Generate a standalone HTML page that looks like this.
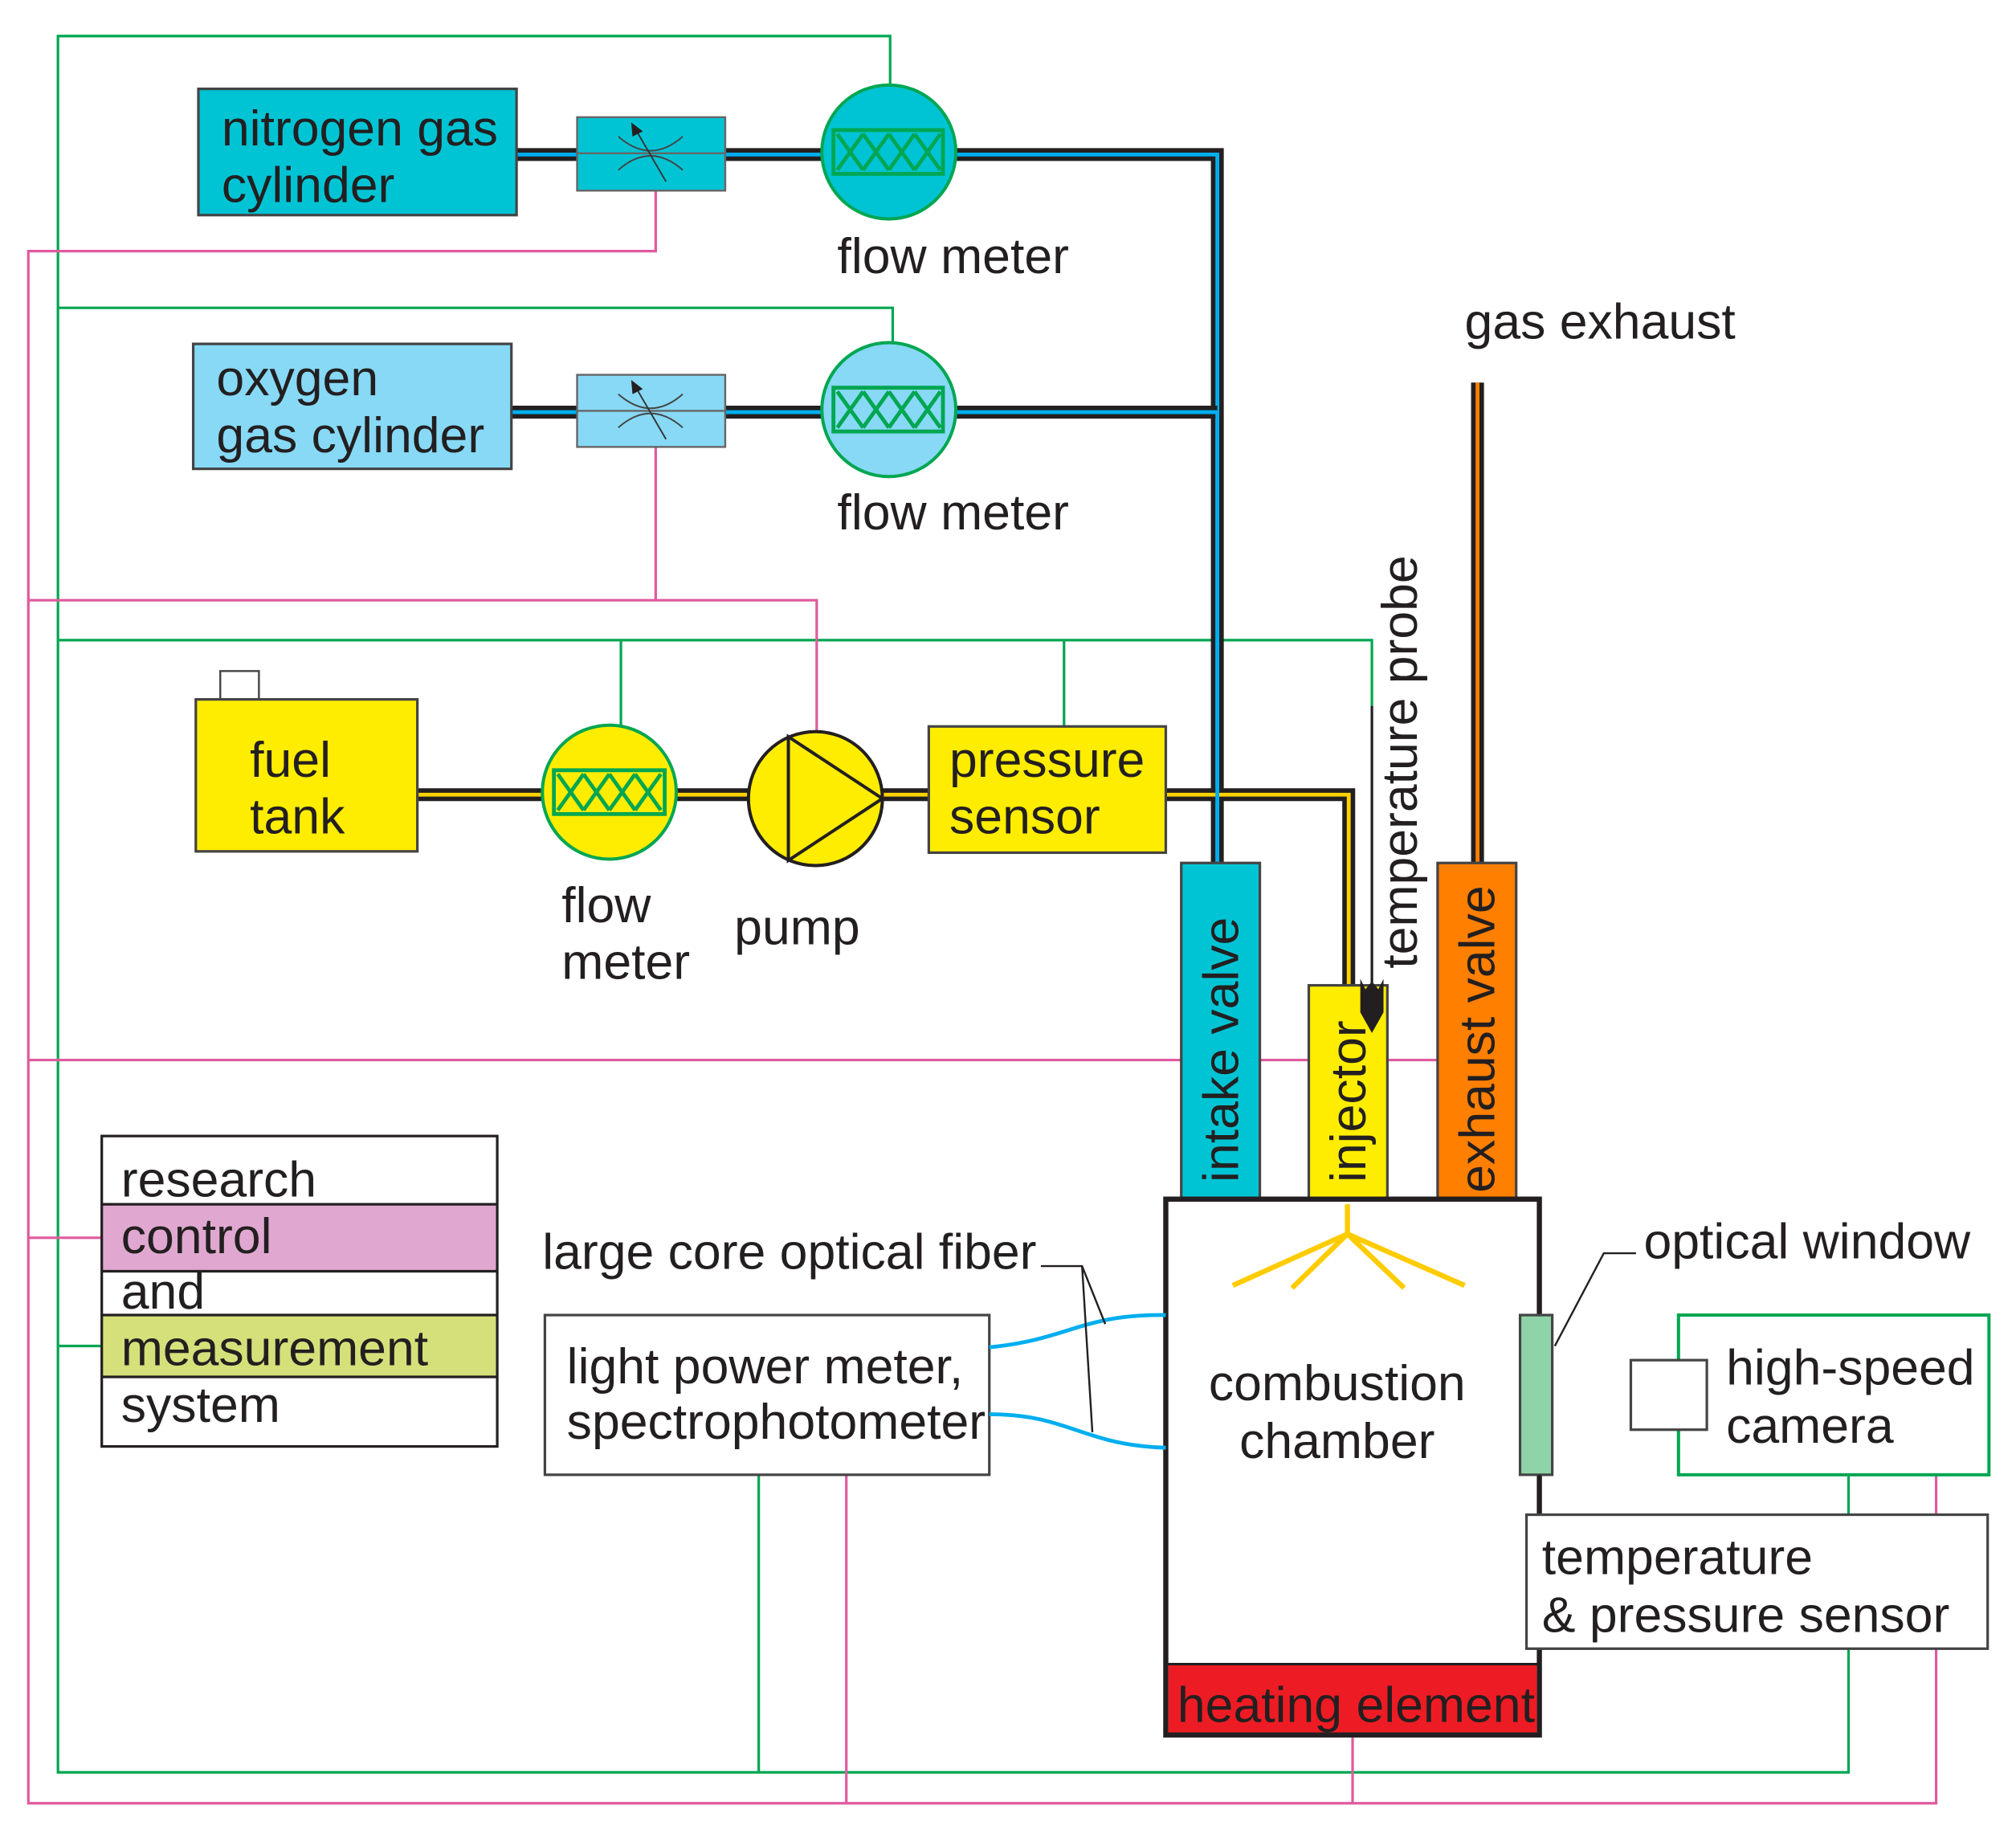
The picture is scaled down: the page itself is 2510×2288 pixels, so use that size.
<!DOCTYPE html>
<html><head><meta charset="utf-8"><style>
html,body{margin:0;padding:0;background:#fff;}
svg{display:block;}
text{font-family:"Liberation Sans",Arial,sans-serif;fill:#231f20;font-size:39px;}
</style></head><body>
<svg width="2510" height="2288" viewBox="0 0 1565 1427" preserveAspectRatio="none" xmlns="http://www.w3.org/2000/svg">
<rect width="1565" height="1427" fill="#fff"/>
<g fill="none" stroke-width="2">
<polyline stroke="#00a651" points="691,66 691,28 45,28 45,1376 1435,1376 1435,1280"/>
<polyline stroke="#00a651" points="45,239 693,239 693,266"/>
<polyline stroke="#00a651" points="45,497 1065,497 1065,548"/>
<line stroke="#00a651" x1="482" y1="497" x2="482" y2="563"/>
<line stroke="#00a651" x1="826" y1="497" x2="826" y2="564"/>
<line stroke="#00a651" x1="45" y1="1045" x2="79" y2="1045"/>
<line stroke="#00a651" x1="589" y1="1145" x2="589" y2="1376"/>
<line stroke="#00a651" x1="1435" y1="1145" x2="1435" y2="1176"/>
<polyline stroke="#e05a9e" points="509,148 509,195 22,195 22,1400 1503,1400 1503,1280"/>
<polyline stroke="#e05a9e" points="509,347 509,466 634,466 634,568"/>
<line stroke="#e05a9e" x1="22" y1="466" x2="509" y2="466"/>
<line stroke="#e05a9e" x1="22" y1="823" x2="1116" y2="823"/>
<line stroke="#e05a9e" x1="22" y1="961" x2="79" y2="961"/>
<line stroke="#e05a9e" x1="657" y1="1145" x2="657" y2="1400"/>
<line stroke="#e05a9e" x1="1050" y1="1347" x2="1050" y2="1400"/>
<line stroke="#e05a9e" x1="1503" y1="1145" x2="1503" y2="1176"/>
</g>
<g fill="none" stroke-linejoin="miter">
<polyline stroke="#231f20" stroke-width="10" points="401,120 945,120 945,670"/>
<polyline stroke="#00aeef" stroke-width="3" points="401,120 945,120 945,670"/>
<polyline stroke="#231f20" stroke-width="10" points="397,320 945,320"/>
<polyline stroke="#00aeef" stroke-width="3" points="397,320 945,320"/>
<polyline stroke="#231f20" stroke-width="10" points="324,617 1047,617 1047,765"/>
<polyline stroke="#ffd200" stroke-width="3" points="324,617 1047,617 1047,765"/>
<line stroke="#00aeef" stroke-width="3" x1="945" y1="320" x2="945" y2="670"/>
<line stroke="#231f20" stroke-width="10" x1="1147" y1="297" x2="1147" y2="670"/>
<line stroke="#ff7f00" stroke-width="3" x1="1147" y1="297" x2="1147" y2="670"/>
</g>
<rect x="154" y="69" width="247" height="98" fill="#00c4d4" stroke="#444" stroke-width="2"/>
<text x="172" y="113">nitrogen gas</text><text x="172" y="157">cylinder</text>
<rect x="448" y="91" width="115" height="57" fill="#00c4d4" stroke="#666" stroke-width="1.5"/>
<line x1="448" y1="119" x2="563" y2="119" stroke="#666" stroke-width="1.5"/>
<path d="M480,106 Q505,128 530,106 M480,132 Q505,110 530,132" fill="none" stroke="#444" stroke-width="1.2"/>
<line x1="492" y1="98" x2="517" y2="141" stroke="#333" stroke-width="1.2"/><path d="M490,95 l9,7 l-8,4z" fill="#231f20"/>
<ellipse cx="690" cy="118" rx="52" ry="52" fill="#00c4d4" stroke="#00a651" stroke-width="2.5"/>
<rect x="647" y="101" width="85" height="34" fill="none" stroke="#00a651" stroke-width="3"/>
<path d="M650,104 l20,28 M670,104 l-20,28 M670,104 l20,28 M690,104 l-20,28 M690,104 l20,28 M710,104 l-20,28 M710,104 l20,28 M730,104 l-20,28" stroke="#00a651" stroke-width="3"/>
<text x="650" y="212">flow meter</text>
<rect x="150" y="267" width="247" height="97" fill="#87d9f5" stroke="#444" stroke-width="2"/>
<text x="168" y="307">oxygen</text><text x="168" y="351">gas cylinder</text>
<rect x="448" y="291" width="115" height="56" fill="#87d9f5" stroke="#666" stroke-width="1.5"/>
<line x1="448" y1="319" x2="563" y2="319" stroke="#666" stroke-width="1.5"/>
<path d="M480,306 Q505,328 530,306 M480,332 Q505,310 530,332" fill="none" stroke="#444" stroke-width="1.2"/>
<line x1="492" y1="298" x2="517" y2="341" stroke="#333" stroke-width="1.2"/><path d="M490,295 l9,7 l-8,4z" fill="#231f20"/>
<ellipse cx="690" cy="318" rx="52" ry="52" fill="#87d9f5" stroke="#00a651" stroke-width="2.5"/>
<rect x="647" y="301" width="85" height="34" fill="none" stroke="#00a651" stroke-width="3"/>
<path d="M650,304 l20,28 M670,304 l-20,28 M670,304 l20,28 M690,304 l-20,28 M690,304 l20,28 M710,304 l-20,28 M710,304 l20,28 M730,304 l-20,28" stroke="#00a651" stroke-width="3"/>
<text x="650" y="411">flow meter</text>
<text x="1137" y="263">gas exhaust</text>
<rect x="171" y="521" width="30" height="22" fill="#fff" stroke="#444" stroke-width="1.5"/>
<rect x="152" y="543" width="172" height="118" fill="#ffed00" stroke="#444" stroke-width="2"/>
<text x="194" y="603">fuel</text><text x="194" y="647">tank</text>
<ellipse cx="473" cy="615" rx="52" ry="52" fill="#ffed00" stroke="#00a651" stroke-width="2.5"/>
<rect x="430" y="598" width="86" height="34" fill="none" stroke="#00a651" stroke-width="3"/>
<path d="M433,601 l20,28 M453,601 l-20,28 M453,601 l20,28 M473,601 l-20,28 M473,601 l20,28 M493,601 l-20,28 M493,601 l20,28 M513,601 l-20,28" stroke="#00a651" stroke-width="3"/>
<text x="436" y="716">flow</text><text x="436" y="760">meter</text>
<circle cx="633" cy="620" r="52" fill="#ffed00" stroke="#231f20" stroke-width="2.5"/>
<path d="M612,572 L685,620 L612,668 Z" fill="none" stroke="#231f20" stroke-width="2.5"/>
<text x="570" y="733">pump</text>
<rect x="721" y="564" width="184" height="98" fill="#ffed00" stroke="#444" stroke-width="2"/>
<text x="737" y="603">pressure</text><text x="737" y="647">sensor</text>
<line x1="1065" y1="548" x2="1065" y2="780" stroke="#231f20" stroke-width="2"/>
<rect x="917" y="670" width="61" height="261" fill="#00c4d4" stroke="#444" stroke-width="2"/>
<text transform="translate(961,918) rotate(-90)">intake valve</text>
<rect x="1016" y="765" width="61" height="166" fill="#ffed00" stroke="#444" stroke-width="2"/>
<text transform="translate(1060,918) rotate(-90)">injector</text>
<path d="M1056,760 l4,8 l5,-6 l5,6 l4,-8 v26 l-9,16 l-9,-16z" fill="#231f20"/>
<text transform="translate(1100,752) rotate(-90)">temperature probe</text>
<rect x="1116" y="670" width="61" height="261" fill="#ff7f00" stroke="#444" stroke-width="2"/>
<text transform="translate(1160,926) rotate(-90)">exhaust valve</text>
<rect x="905" y="931" width="290" height="416" fill="#fff" stroke="#231f20" stroke-width="4"/>
<rect x="907" y="1292" width="286" height="53" fill="#ed1c24"/>
<line x1="905" y1="1292" x2="1195" y2="1292" stroke="#231f20" stroke-width="2"/>
<text x="914" y="1337">heating element</text>
<polyline points="1046,935 1046,958" stroke="#ffcc00" stroke-width="4" fill="none"/>
<path d="M1046,958 L957,998 M1046,958 L1003,1000 M1046,958 L1090,1000 M1046,958 L1137,998" stroke="#ffcc00" stroke-width="4"/>
<text x="1038" y="1087" text-anchor="middle">combustion</text><text x="1038" y="1132" text-anchor="middle">chamber</text>
<rect x="1180" y="1021" width="25" height="124" fill="#8fd4a8" stroke="#444" stroke-width="2"/>
<polyline points="1207,1045 1245,973 1270,973" fill="none" stroke="#231f20" stroke-width="1.5"/>
<text x="1276" y="977">optical window</text>
<line x1="1195" y1="1145" x2="1195" y2="1176" stroke="#231f20" stroke-width="2"/>
<rect x="1303" y="1021" width="241" height="124" fill="#fff" stroke="#00a651" stroke-width="2.5"/>
<rect x="1266" y="1056" width="59" height="54" fill="#fff" stroke="#444" stroke-width="2"/>
<text x="1340" y="1075">high-speed</text><text x="1340" y="1120">camera</text>
<rect x="1185" y="1176" width="358" height="104" fill="#fff" stroke="#444" stroke-width="2"/>
<text x="1197" y="1222">temperature</text><text x="1197" y="1267">&amp; pressure sensor</text>
<rect x="423" y="1021" width="345" height="124" fill="#fff" stroke="#444" stroke-width="2"/>
<text x="440" y="1074">light power meter,</text><text x="440" y="1117">spectrophotometer</text>
<path d="M768,1046 C830,1040 840,1020 905,1021 M768,1098 C830,1098 840,1122 905,1124" fill="none" stroke="#00aeef" stroke-width="3"/>
<text x="421" y="985">large core optical fiber</text>
<polyline points="808,983 840,983 858,1028" fill="none" stroke="#231f20" stroke-width="1.5"/>
<polyline points="840,983 848,1112" fill="none" stroke="#231f20" stroke-width="1.5"/>
<rect x="79" y="935" width="307" height="52" fill="#e0a8d0"/>
<rect x="79" y="1021" width="307" height="48" fill="#d6e07a"/>
<rect x="79" y="882" width="307" height="241" fill="none" stroke="#231f20" stroke-width="2"/>
<g stroke="#231f20" stroke-width="2"><line x1="79" y1="935" x2="386" y2="935"/><line x1="79" y1="987" x2="386" y2="987"/><line x1="79" y1="1021" x2="386" y2="1021"/><line x1="79" y1="1069" x2="386" y2="1069"/></g>
<text x="94" y="929">research</text><text x="94" y="973">control</text><text x="94" y="1016">and</text><text x="94" y="1060">measurement</text><text x="94" y="1104">system</text>
</svg>
</body></html>
